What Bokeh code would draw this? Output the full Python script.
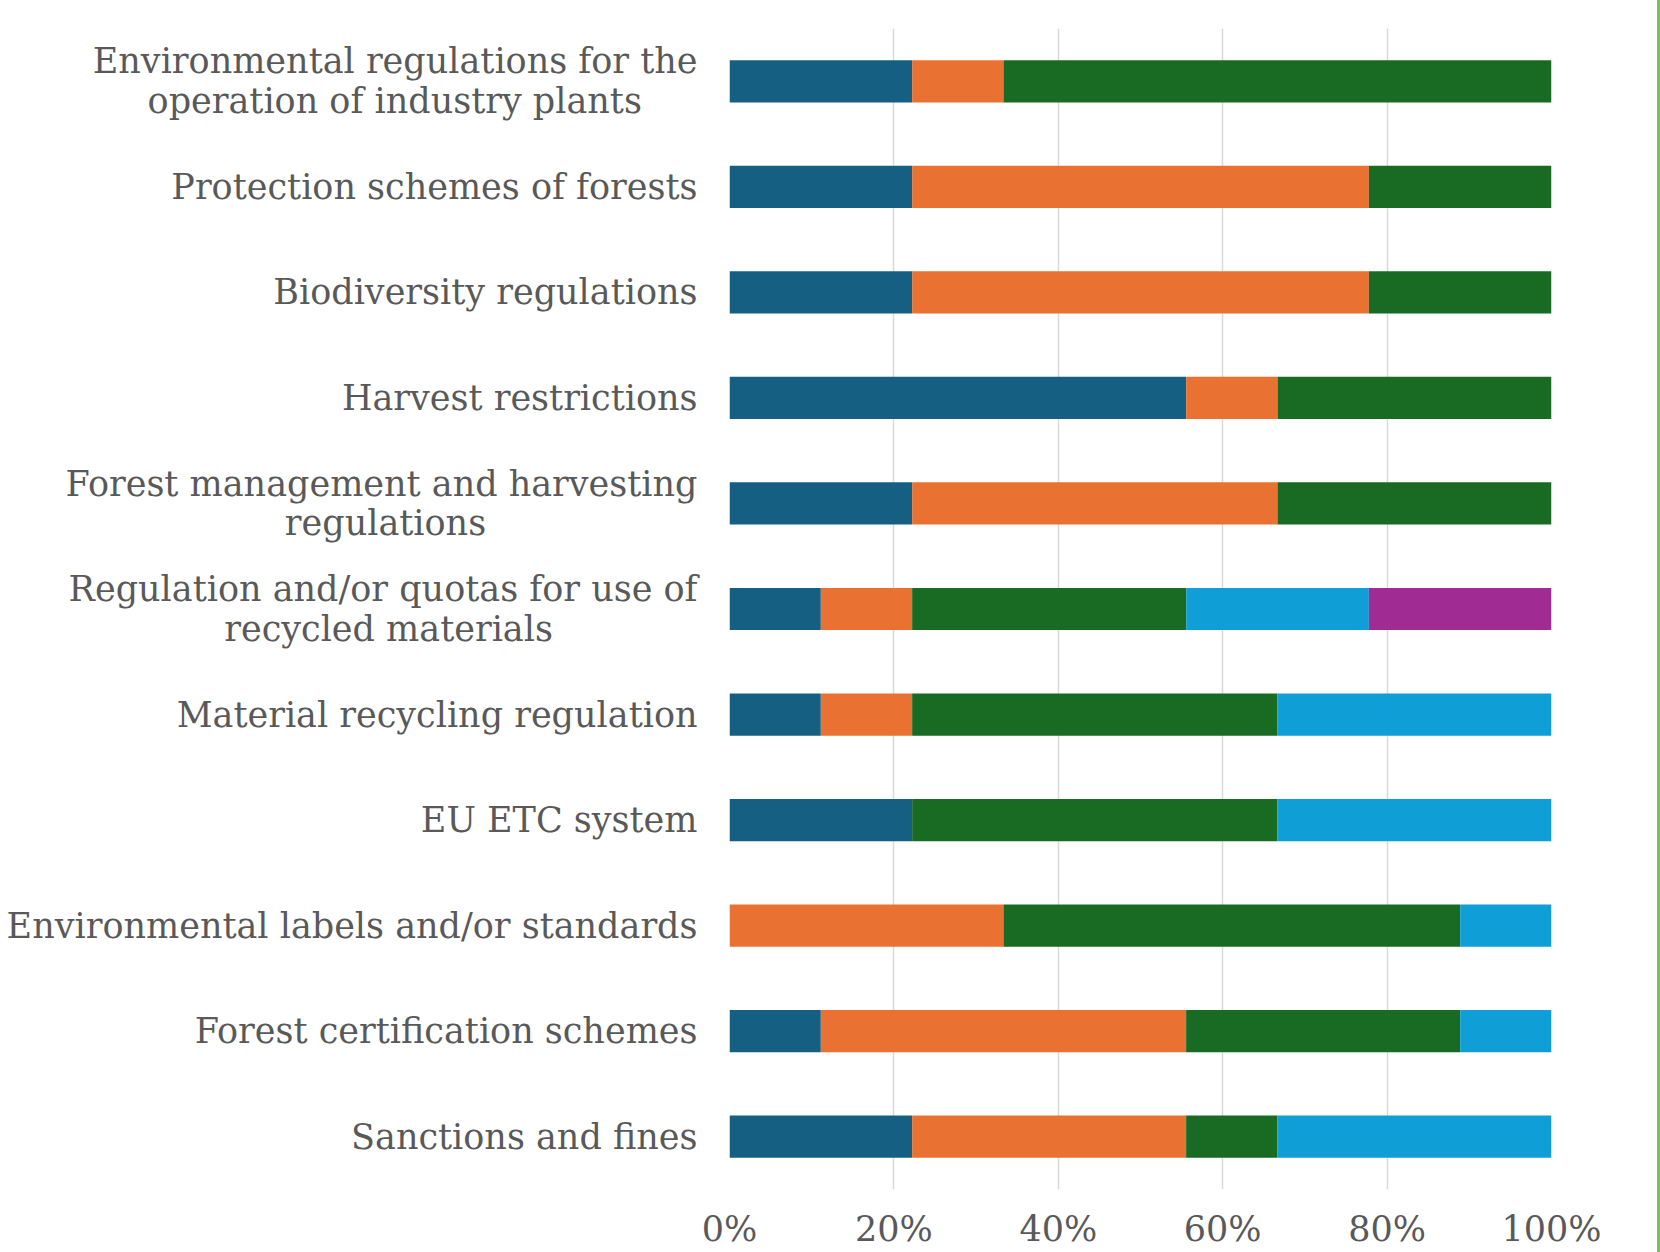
from bokeh.plotting import figure
from bokeh.models import FactorRange, Range1d, FixedTicker, PrintfTickFormatter, Div, ColumnDataSource
from bokeh.layouts import row
from bokeh.embed import file_html
from bokeh.resources import INLINE

NB = "\u00a0"
categories = [
    "Environmental regulations for the\noperation of industry plants" + NB * 5,
    "Protection schemes of forests",
    "Biodiversity regulations",
    "Harvest restrictions",
    "Forest management and harvesting\nregulations" + NB * 19,
    "Regulation and/or quotas for use of\nrecycled materials" + NB * 13,
    "Material recycling regulation",
    "EU ETC system",
    "Environmental labels and/or standards",
    "Forest certification schemes",
    "Sanctions and fines",
]

series_names = ["Series 1", "Series 2", "Series 3", "Series 4", "Series 5"]
series1 = [22.22, 22.22, 22.22, 55.56, 22.22, 11.11, 11.11, 22.22, 0.0, 11.11, 22.22]
series2 = [11.11, 55.56, 55.56, 11.11, 44.44, 11.11, 11.11, 0.0, 33.33, 44.44, 33.33]
series3 = [66.67, 22.22, 22.22, 33.33, 33.34, 33.34, 44.45, 44.45, 55.56, 33.34, 11.12]
series4 = [0.0, 0.0, 0.0, 0.0, 0.0, 22.22, 33.33, 33.33, 11.11, 11.11, 33.33]
series5 = [0.0, 0.0, 0.0, 0.0, 0.0, 22.22, 0.0, 0.0, 0.0, 0.0, 0.0]
colors = ["#156082", "#E97132", "#196B24", "#0F9ED5", "#A02B93"]
x_ticks = [0, 20, 40, 60, 80, 100]

source = ColumnDataSource(dict(
    cat=categories,
    **{series_names[0]: series1, series_names[1]: series2, series_names[2]: series3,
       series_names[3]: series4, series_names[4]: series5}
))

FONT = "DejaVu Serif"
TXT = "#595959"

p = figure(
    frame_width=822, frame_height=1161,
    y_range=FactorRange(factors=list(reversed(categories)), range_padding=0),
    x_range=Range1d(0, 100),
    output_backend="svg", toolbar_location=None,
    min_border_left=729, min_border_right=100, min_border_top=28, min_border_bottom=60,
)
p.y_range.factor_padding = 0
p.hbar_stack(series_names, y="cat", height=0.4, color=colors, line_color=None, source=source)

p.outline_line_color = None
p.ygrid.grid_line_color = None
p.xgrid.grid_line_color = "#D9D9D9"
p.xgrid.grid_line_width = 1.5

p.xaxis.ticker = FixedTicker(ticks=x_ticks)
p.xaxis.formatter = PrintfTickFormatter(format="%d%%")
for ax in (p.xaxis, p.yaxis):
    ax.axis_line_color = None
    ax.major_tick_line_color = None
    ax.minor_tick_line_color = None
    ax.major_tick_out = 0
    ax.major_tick_in = 0
    ax.minor_tick_out = 0
    ax.minor_tick_in = 0
    ax.axis_label = None
    ax.axis_label_standoff = 0
    ax.major_label_text_font = FONT
    ax.major_label_text_font_size = "35px"
    ax.major_label_text_color = TXT
p.xaxis.major_label_standoff = 19
p.yaxis.major_label_standoff = 32
p.yaxis.major_label_text_line_height = 0.99

edge = Div(width=3, height=1252, margin=(0, 0, 0, 6), styles={"background-color": "#7DC05B"})
layout = row(p, edge)

open("out.html", "w").write(file_html(layout, INLINE))
